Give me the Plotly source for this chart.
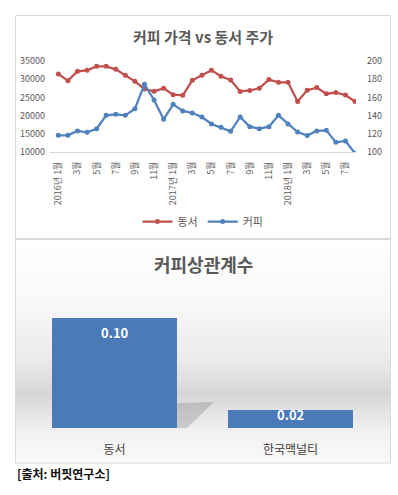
import base64
import plotly.graph_objects as go

# ---------------- data ----------------
month_labels = [
    "2016년 1월", "2월", "3월", "4월", "5월", "6월", "7월", "8월", "9월", "10월", "11월", "12월",
    "2017년 1월", "2월", "3월", "4월", "5월", "6월", "7월", "8월", "9월", "10월", "11월", "12월",
    "2018년 1월", "2월", "3월", "4월", "5월", "6월", "7월", "8월",
]
dongsuh_price = [31430, 29600, 32160, 32440, 33530, 33530, 32710, 31060, 29410, 27310, 26670, 27490,
                 25750, 25570, 29690, 31060, 32440, 30800, 29780, 26650, 26900, 27500, 29900, 29140,
                 29140, 23880, 26960, 27690, 26010, 26320, 25650, 23880]
coffee_price = [118.3, 118.3, 123.1, 121.6, 125.6, 140.3, 141.4, 140.3, 147.6, 174.4, 157.1, 135.9,
                152.4, 145.1, 142.9, 138.5, 130.8, 127.1, 122.7, 138.5, 127.8, 125.6, 127.8, 140.3,
                130.8, 122.0, 118.0, 123.1, 123.8, 110.6, 112.1, 98.5]
corr_names = ["동서", "한국맥널티"]
corr_values = [0.10, 0.02]

left_ticks = [10000, 15000, 20000, 25000, 30000, 35000]
right_ticks = [100, 120, 140, 160, 180, 200]

# ---------------- layout helpers ----------------
W, H = 398, 495
def px(x): return x / W
def py(y): return 1 - y / H

FONT = "Noto Sans CJK KR"
RED = "#C0504D"
BLUE = "#4F81BD"
GRAY_TXT = "#595959"

idx = list(range(len(month_labels)))
tick_idx = idx[::2]
tick_txt = [month_labels[i] for i in tick_idx]

fig = go.Figure()
fig.add_trace(go.Scatter(x=idx, y=dongsuh_price, name="동서", mode="lines+markers",
                         line=dict(color=RED, width=2.25), marker=dict(size=5, color=RED),
                         xaxis="x", yaxis="y"))
fig.add_trace(go.Scatter(x=idx, y=coffee_price, name="커피", mode="lines+markers",
                         line=dict(color=BLUE, width=2.25), marker=dict(size=5, color=BLUE),
                         xaxis="x", yaxis="y2"))
fig.add_trace(go.Bar(x=corr_names, y=corr_values, xaxis="x2", yaxis="y3", showlegend=False,
                     marker=dict(color="#4A7AB7", line=dict(width=0)), hoverinfo="skip"))

# value labels on the bars (Excel-like "inside end" placement)
label_shift = [-14, -4.5]
bar_labels = [
    dict(text=f"<b>{v:.2f}</b>", x=n, y=v, xref="x2", yref="y3", yshift=s,
         showarrow=False, xanchor="center", yanchor="middle",
         font=dict(size=13, color="white", family=FONT))
    for n, v, s in zip(corr_names, corr_values, label_shift)
]

# gradient background for lower chart
svg = ("<svg xmlns='http://www.w3.org/2000/svg' width='374' height='223' preserveAspectRatio='none'>"
       "<defs><linearGradient id='g' x1='0' y1='0' x2='0' y2='1'>"
       "<stop offset='0' stop-color='#ffffff'/>"
       "<stop offset='0.30' stop-color='#f8f8f8'/>"
       "<stop offset='0.55' stop-color='#e9e9e9'/>"
       "<stop offset='0.69' stop-color='#d6d6d6'/>"
       "<stop offset='0.85' stop-color='#f0f0f0'/>"
       "<stop offset='1' stop-color='#fafafa'/>"
       "</linearGradient></defs><rect width='374' height='223' fill='url(#g)'/></svg>")
src = "data:image/svg+xml;base64," + base64.b64encode(svg.encode()).decode()

ymin3 = 0.0044
ymax3 = ymin3 + 138 / 1150.6

fig.update_layout(
    width=W, height=H, margin=dict(l=0, r=0, t=0, b=0, autoexpand=False),
    paper_bgcolor="white", plot_bgcolor="rgba(0,0,0,0)",
    font=dict(family=FONT, color=GRAY_TXT),
    xaxis=dict(domain=[px(50), px(356)], anchor="y", range=[-0.87, 31.1], automargin=False,
               tickmode="array", tickvals=tick_idx, ticktext=tick_txt, tickangle=-90,
               tickfont=dict(size=9, color=GRAY_TXT), showgrid=False, zeroline=False,
               showline=True, linecolor="#d9d9d9", linewidth=1, ticks="", ticklabelstandoff=5),
    yaxis=dict(domain=[py(152), py(61)], anchor="x", range=[10000, 35000], automargin=False,
               tickmode="array", tickvals=left_ticks, tickformat="d",
               tickfont=dict(size=9, color=GRAY_TXT),
               showgrid=False, zeroline=False, ticks="", ticklabelstandoff=4),
    yaxis2=dict(overlaying="y", anchor="x", side="right", range=[100, 200], automargin=False,
                tickmode="array", tickvals=right_ticks, tickfont=dict(size=9, color=GRAY_TXT),
                showgrid=False, zeroline=False, ticks="", ticklabelstandoff=10),
    xaxis2=dict(domain=[px(26.5), px(378.5)], anchor="y3", showgrid=False, zeroline=False,
                showline=False, ticks="", tickfont=dict(size=12, color="#404040"),
                ticklabelstandoff=13, automargin=False),
    yaxis3=dict(domain=[py(428), py(290)], anchor="x2", range=[ymin3, ymax3], visible=False,
                automargin=False),
    bargap=0.29,
    legend=dict(orientation="h", x=0.51, xanchor="center", y=py(221.5), yanchor="middle",
                font=dict(size=11, color=GRAY_TXT), bgcolor="rgba(0,0,0,0)", itemwidth=30,
                tracegroupgap=0),
    images=[dict(source=src, xref="paper", yref="paper", x=px(16), y=py(240),
                 sizex=px(374), sizey=223 / H, sizing="stretch", layer="below",
                 xanchor="left", yanchor="top")],
    shapes=[
        dict(type="rect", xref="paper", yref="paper", x0=px(15.5), x1=px(390.5), y0=py(238.5), y1=py(15.5),
             line=dict(color="#d9d9d9", width=1)),
        dict(type="rect", xref="paper", yref="paper", x0=px(15.5), x1=px(390.5), y0=py(463), y1=py(239.5),
             line=dict(color="#d9d9d9", width=1)),
        dict(type="path", xref="paper", yref="paper", layer="below",
             path=f"M {px(177)} {py(428)} L {px(177)} {py(403)} L {px(214)} {py(402)} L {px(187)} {py(428)} Z",
             fillcolor="rgba(110,110,110,0.28)", line=dict(width=0)),
    ],
    annotations=[
        dict(text="<b>커피 가격 vs 동서 주가</b>", xref="paper", yref="paper", x=px(203), y=py(36),
             xanchor="center", yanchor="middle", showarrow=False,
             font=dict(size=15, color=GRAY_TXT, family=FONT)),
        dict(text="<b>커피상관계수</b>", xref="paper", yref="paper", x=px(203), y=py(264),
             xanchor="center", yanchor="middle", showarrow=False,
             font=dict(size=18, color=GRAY_TXT, family=FONT)),
        dict(text="<b>[출처: 버핏연구소]</b>", xref="paper", yref="paper", x=px(15), y=py(473),
             xanchor="left", yanchor="middle", showarrow=False,
             font=dict(size=12, color="#111111", family=FONT)),
    ] + bar_labels,
)

fig.write_html("out.html", config={"displayModeBar": False},
               post_script="document.body.style.margin='0';document.body.style.overflow='hidden';")
